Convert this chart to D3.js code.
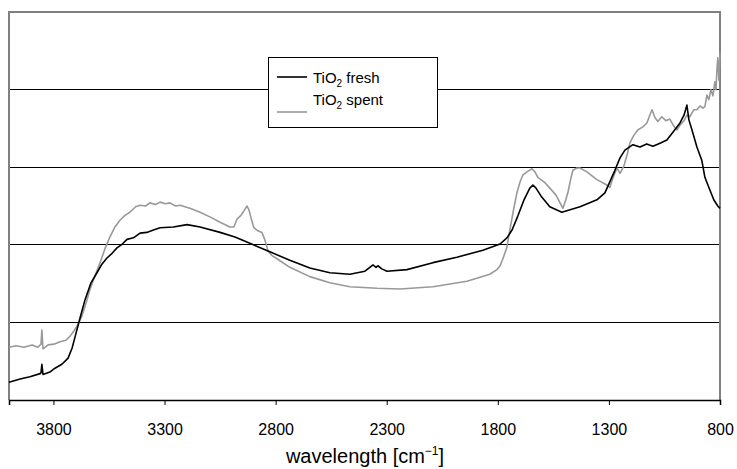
<!DOCTYPE html>
<html>
<head>
<meta charset="utf-8">
<script src="https://cdn.jsdelivr.net/npm/d3@7"></script>
<style>
  html, body { margin: 0; padding: 0; background: #fff; }
  svg { display: block; font-family: "Liberation Sans", Arial, sans-serif; }
</style>
</head>
<body>
<svg id="chart" width="737" height="469"></svg>
<script>
// DRIFT spectra of TiO2, fresh and spent catalyst (arbitrary intensity units)
const freshWavenumber = [4000,3950,3906,3860,3856,3852,3847,3816,3793,3762,3734,3716,3703,3680,3658,3631,3604,3582,3559,3536,3514,3490,3469,3440,3410,3380,3350,3320,3260,3199,3140,3050,2983,2916,2826,2736,2646,2556,2466,2398,2376,2362,2348,2340,2322,2299,2209,2092,1984,1867,1790,1759,1736,1710,1682,1656,1642,1628,1606,1566,1512,1430,1354,1318,1296,1273,1250,1228,1192,1160,1130,1102,1070,1039,1012,980,962,949,940,926,904,882,868,846,828,810,800];
const freshValue      = [0.23,0.27,0.30,0.34,0.35,0.46,0.33,0.36,0.41,0.46,0.54,0.67,0.81,1.06,1.29,1.51,1.64,1.75,1.83,1.89,1.96,2.01,2.07,2.09,2.15,2.16,2.19,2.22,2.23,2.26,2.23,2.16,2.10,2.02,1.91,1.80,1.70,1.64,1.62,1.66,1.71,1.74,1.71,1.73,1.69,1.66,1.68,1.77,1.84,1.93,2.01,2.09,2.19,2.37,2.58,2.73,2.77,2.73,2.63,2.49,2.42,2.49,2.58,2.67,2.81,2.96,3.12,3.22,3.29,3.26,3.30,3.27,3.31,3.35,3.45,3.57,3.67,3.80,3.61,3.48,3.26,3.09,2.87,2.71,2.58,2.50,2.47];

const spentWavenumber = [4000,3968,3932,3896,3870,3856,3852,3847,3824,3798,3770,3744,3726,3708,3694,3672,3649,3636,3613,3590,3568,3546,3523,3500,3478,3456,3430,3410,3385,3366,3340,3320,3296,3276,3250,3230,3186,3140,3096,3050,3006,2988,2974,2956,2942,2929,2920,2911,2898,2880,2862,2848,2834,2816,2794,2736,2646,2556,2466,2344,2240,2092,1939,1836,1804,1790,1777,1759,1746,1728,1714,1700,1687,1664,1646,1633,1620,1588,1566,1538,1520,1507,1494,1484,1471,1462,1444,1430,1399,1354,1309,1296,1278,1264,1250,1232,1218,1206,1188,1170,1147,1129,1116,1106,1093,1080,1062,1044,1026,1008,994,980,962,949,936,918,904,890,877,868,859,850,841,832,823,818,814,810,805,800];
const spentValue      = [0.68,0.70,0.68,0.71,0.68,0.72,0.90,0.66,0.71,0.72,0.75,0.77,0.82,0.89,0.95,1.08,1.29,1.42,1.60,1.77,1.95,2.10,2.23,2.32,2.38,2.42,2.49,2.51,2.50,2.54,2.52,2.55,2.53,2.54,2.50,2.51,2.47,2.42,2.36,2.29,2.23,2.23,2.33,2.38,2.44,2.50,2.45,2.35,2.22,2.18,2.16,2.06,1.92,1.86,1.82,1.71,1.59,1.51,1.46,1.44,1.43,1.46,1.53,1.62,1.68,1.73,1.82,1.97,2.19,2.47,2.67,2.81,2.90,2.95,2.98,2.94,2.87,2.80,2.73,2.64,2.54,2.47,2.58,2.68,2.86,2.96,2.99,2.99,2.94,2.84,2.77,2.74,2.89,2.99,2.92,3.02,3.16,3.31,3.41,3.48,3.52,3.57,3.67,3.74,3.64,3.59,3.65,3.60,3.62,3.53,3.48,3.54,3.60,3.67,3.65,3.74,3.74,3.79,3.76,3.78,3.93,3.87,4.00,3.92,4.10,4.00,4.25,4.41,4.12,4.48];

const xTicks = [3800, 3300, 2800, 2300, 1800, 1300, 800];
const yGrid = [1, 2, 3, 4];
const seriesNames = ["fresh", "spent"];

const svg = d3.select("#chart");
const W = 737, H = 469;
const m = { left: 9, top: 12, right: W - 720, bottom: H - 400 };

const x = d3.scaleLinear().domain([4000, 800]).range([m.left, W - m.right]);
const y = d3.scaleLinear().domain([0, 5]).range([H - m.bottom, m.top]);

// horizontal grid lines
svg.append("g").selectAll("line").data(yGrid).join("line")
  .attr("x1", x(4000)).attr("x2", x(800))
  .attr("y1", d => y(d)).attr("y2", d => y(d))
  .attr("stroke", "#000").attr("stroke-width", 1)
  .attr("shape-rendering", "crispEdges");

// plot frame (left, top, right)
svg.append("path")
  .attr("d", `M${x(4000)},${y(0)}V${y(5)}H${x(800)}V${y(0)}`)
  .attr("fill", "none").attr("stroke", "#808080").attr("stroke-width", 2);

// spectra
const line = d3.line().x(d => x(d[0])).y(d => y(d[1]));
const spent = spentWavenumber.map((w, i) => [w, spentValue[i]]);
const fresh = freshWavenumber.map((w, i) => [w, freshValue[i]]);

svg.append("path").datum(spent).attr("d", line)
  .attr("fill", "none").attr("stroke", "#999999").attr("stroke-width", 1.6)
  .attr("stroke-linejoin", "round");
svg.append("path").datum(fresh).attr("d", line)
  .attr("fill", "none").attr("stroke", "#000").attr("stroke-width", 1.6)
  .attr("stroke-linejoin", "round");

// bottom axis
const xAxis = d3.axisBottom(x).tickValues(xTicks).tickSize(5).tickPadding(19)
  .tickFormat(d3.format("d"));
const gx = svg.append("g").attr("transform", `translate(0,${y(0)})`).call(xAxis);
gx.select(".domain").attr("stroke", "#000").attr("stroke-width", 1.5);
gx.selectAll(".tick line").attr("stroke", "#000");
gx.selectAll(".tick text").attr("font-size", 16).attr("fill", "#000")
  .attr("font-family", "Liberation Sans, Arial, sans-serif");

// axis title
const title = svg.append("text")
  .attr("x", 365).attr("y", 463).attr("text-anchor", "middle")
  .attr("font-size", 20).attr("fill", "#000");
title.append("tspan").text("wavelength [cm");
title.append("tspan").attr("dy", -8).attr("font-size", 12).text("\u22121");
title.append("tspan").attr("dy", 8).text("]");

// legend
const lg = svg.append("g").attr("transform", "translate(268,57)");
lg.append("rect").attr("width", 169).attr("height", 70)
  .attr("fill", "#fff").attr("stroke", "#000").attr("stroke-width", 1)
  .attr("shape-rendering", "crispEdges");
const legendRows = [
  { name: seriesNames[0], color: "#000", lineY: 20, textY: 26 },
  { name: seriesNames[1], color: "#999999", lineY: 55, textY: 48 }
];
legendRows.forEach(r => {
  lg.append("line").attr("x1", 9).attr("x2", 39).attr("y1", r.lineY).attr("y2", r.lineY)
    .attr("stroke", r.color).attr("stroke-width", 1.6);
  const t = lg.append("text").attr("x", 45).attr("y", r.textY)
    .attr("font-size", 15).attr("fill", "#000");
  t.append("tspan").text("TiO");
  t.append("tspan").attr("dy", 4).attr("font-size", 10).text("2");
  t.append("tspan").attr("dy", -4).text(" " + r.name);
});
</script>
</body>
</html>
